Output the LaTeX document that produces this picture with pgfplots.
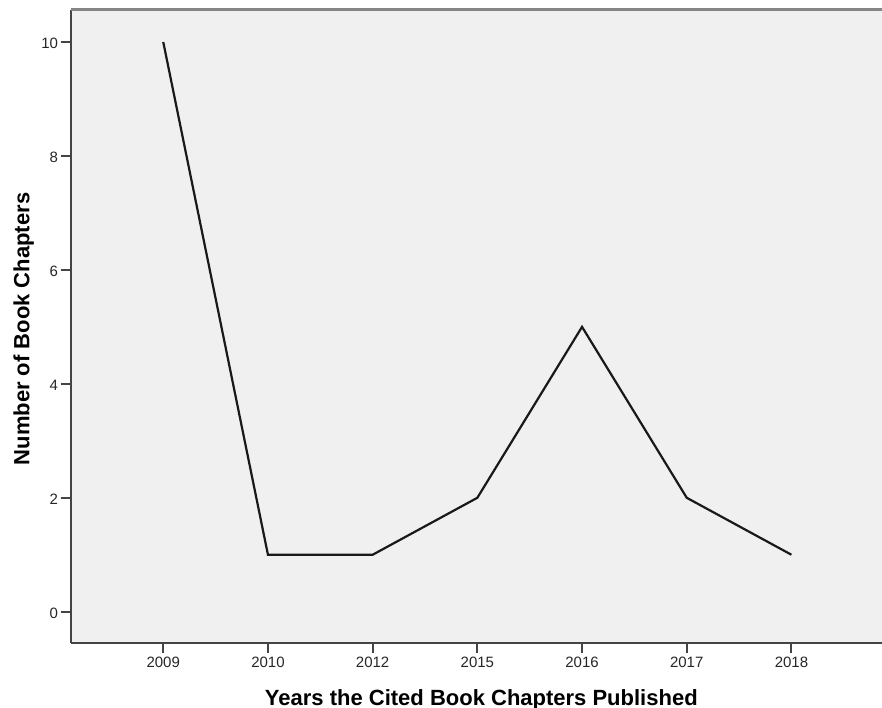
\documentclass[border=0pt]{standalone}
\usepackage{fontspec}
\setmainfont{Liberation Sans}
\usepackage{pgfplots}
\pgfplotsset{compat=1.18}
\definecolor{bgc}{HTML}{F0F0F0}
\definecolor{axc}{HTML}{444444}
\definecolor{topc}{HTML}{858585}
\begin{document}
\begin{tikzpicture}
\begin{axis}[
  scale only axis,
  width=811.3pt, height=633pt,
  xmin=-0.884, xmax=6.865,
  ymin=-0.549, ymax=10.562,
  axis background/.style={fill=bgc},
  separate axis lines,
  axis x line*=bottom, axis y line*=left,
  axis line style={-, color=axc, line width=2pt},
  xtick={0,1,2,3,4,5,6},
  xticklabels={2009,2010,2012,2015,2016,2017,2018},
  ytick={0,2,4,6,8,10},
  tick align=outside,
  major tick length=10pt,
  every tick/.style={color=axc, line width=2pt},
  major tick style={color=axc, line width=2pt},
  /pgf/number format/assume math mode=true,
  ticklabel style={font=\fontsize{15}{18}\selectfont, text=black!85},
  xticklabel style={anchor=north, inner sep=0pt, yshift=-4pt},
  yticklabel style={anchor=east, inner sep=0pt, xshift=-2.5pt, yshift=-1.5pt},
  xlabel={Years the Cited Book Chapters Published},
  ylabel={Number of Book Chapters},
  every axis x label/.style={at={(axis description cs:0.5,0)}, anchor=base, yshift=-62pt, xshift=5pt, font=\bfseries\fontsize{22}{26}\selectfont},
  every axis y label/.style={at={(axis description cs:-0.0508,0.496)}, anchor=base, rotate=90, font=\bfseries\fontsize{22}{26}\selectfont},
  clip=false,
]
\addplot[black!90, line width=2.2pt, mark=none] coordinates {
  (0,10) (1,1) (2,1) (3,2) (4,5) (5,2) (6,1)
};
\draw[topc, line width=3pt] (rel axis cs:0,1) -- (rel axis cs:1,1);
\end{axis}
\pgfresetboundingbox
\path[use as bounding box] (-70.7pt,-65pt) rectangle (811.3pt,643pt);
\end{tikzpicture}
\end{document}
